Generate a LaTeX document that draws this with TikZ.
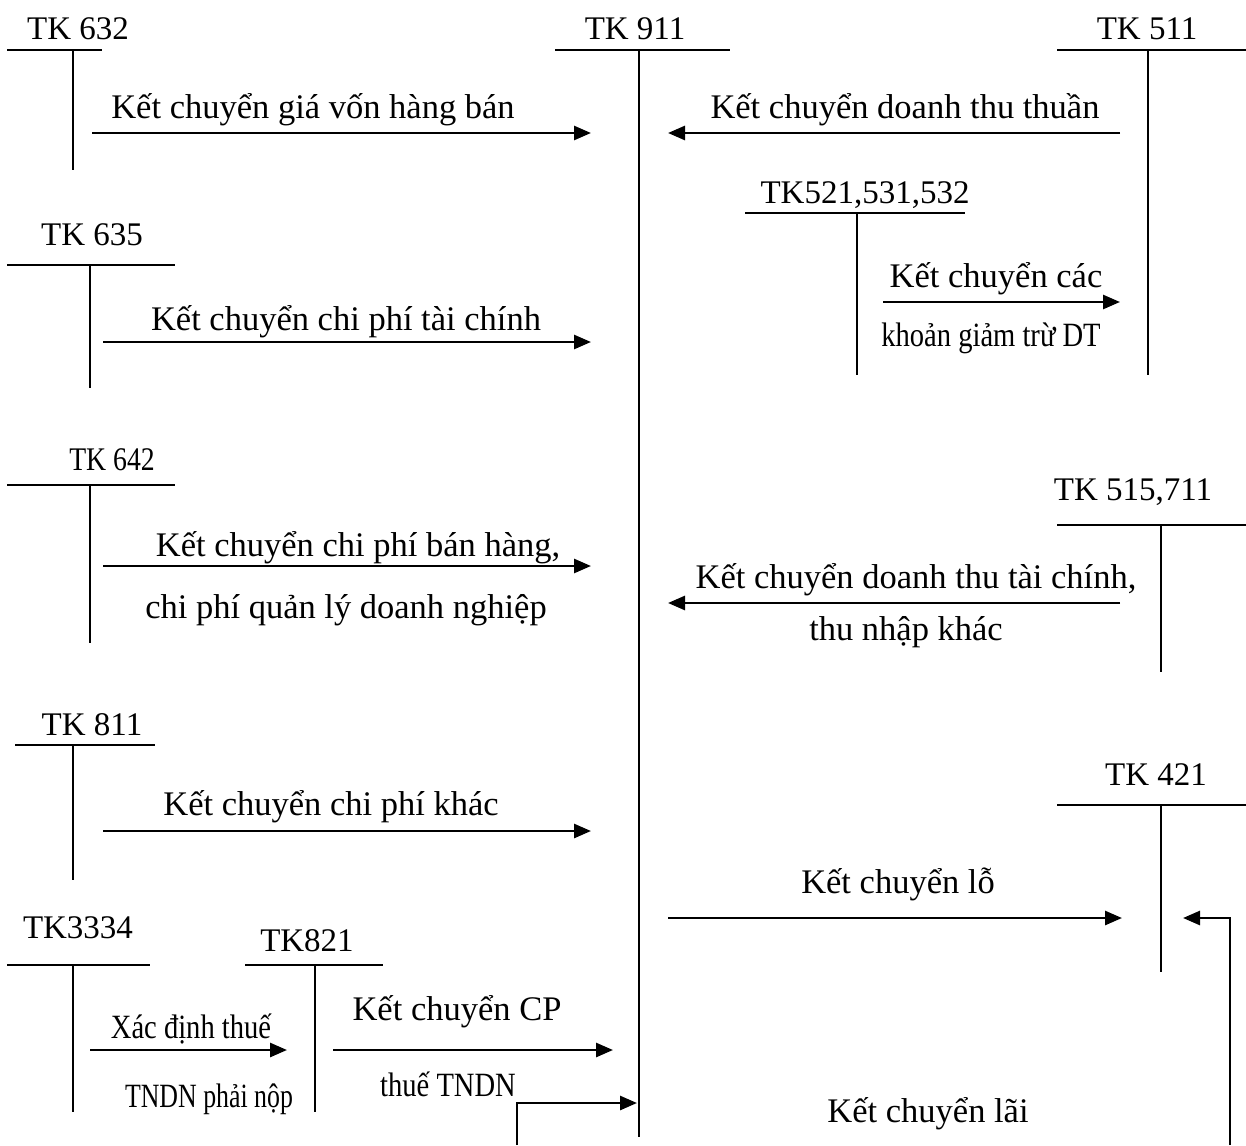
\documentclass[tikz,border=0pt]{standalone}
\usepackage{fontspec}
\setmainfont{Liberation Serif}
\usetikzlibrary{arrows.meta}

% T-account: #1 name, #2 title, #3 title x, #4 title baseline y,
% #5/#6 left/right end of the top rule, #7 rule y, #8 stem x, #9 stem bottom y
\newcommand\taccount[9]{%
  \node[acctitle] (#1) at (#3,#4) {#2};
  \coordinate (#1-l) at (#5,#7);
  \coordinate (#1-r) at (#6,#7);
  \coordinate (#1-t) at (#8,#7);
  \coordinate (#1-b) at (#8,#9);
  \draw[acct] (#1-l) -- (#1-r);
  \draw[acct] (#1-t) -- (#1-b);
}
\newcommand\narrow[2][0.84]{\scalebox{#1}[1]{#2}}

\begin{document}
\begin{tikzpicture}[x=1pt,y=-1pt,
  acct/.style={line width=2pt},
  flow/.style={line width=2.7pt,-{Triangle[length=17pt,width=14pt]}},
  acctitle/.style={anchor=base,inner sep=0pt,font=\fontsize{33}{38}\selectfont},
  lbl/.style={anchor=base,inner sep=0pt,font=\fontsize{34.5}{40}\selectfont},
  slbl/.style={anchor=base,inner sep=0pt,font=\fontsize{34}{40}\selectfont}]
\useasboundingbox (0,0) rectangle (1246,1145);

% ---- T-accounts ----
\taccount{tk632}{TK 632}{78}{40}{7}{102}{50}{73}{170}
\taccount{tk911}{TK 911}{635}{40}{555}{730}{50}{639}{1137}
\taccount{tk511}{TK 511}{1147}{40}{1057}{1246}{50}{1148}{375}
\taccount{tk521}{TK521,531,532}{865}{203}{745}{965}{213}{857}{375}
\taccount{tk635}{TK 635}{92}{245}{7}{175}{265}{90}{388}
\taccount{tk642}{\narrow{TK 642}}{112}{470}{7}{175}{485}{90}{643}
\taccount{tk515}{TK 515,711}{1133}{500}{1057}{1246}{525}{1161}{672}
\taccount{tk811}{TK 811}{92}{735}{15}{155}{745}{73}{880}
\taccount{tk421}{TK 421}{1156}{785}{1057}{1246}{805}{1161}{972}
\taccount{tk3334}{TK3334}{78}{938}{7}{150}{965}{73}{1112}
\taccount{tk821}{TK821}{307}{951}{245}{383}{965}{315}{1112}

% ---- transfer arrows ----
\coordinate (a1s) at (92,133);   \coordinate (a1e) at (591,133);
\coordinate (a2s) at (1120,133); \coordinate (a2e) at (668,133);
\coordinate (a3s) at (883,302);  \coordinate (a3e) at (1120,302);
\coordinate (a4s) at (103,342);  \coordinate (a4e) at (591,342);
\coordinate (a5s) at (103,566);  \coordinate (a5e) at (591,566);
\coordinate (a6s) at (1120,603); \coordinate (a6e) at (668,603);
\coordinate (a7s) at (103,831);  \coordinate (a7e) at (591,831);
\coordinate (a8s) at (668,918);  \coordinate (a8e) at (1122,918);
\coordinate (a9s) at (1230,1145); \coordinate (a9k) at (1230,918); \coordinate (a9e) at (1183,918);
\coordinate (a10s) at (90,1050); \coordinate (a10e) at (287,1050);
\coordinate (a11s) at (333,1050); \coordinate (a11e) at (613,1050);
\coordinate (a12s) at (517,1145); \coordinate (a12k) at (517,1103); \coordinate (a12e) at (637,1103);

\draw[flow] (a1s) -- (a1e);
\draw[flow] (a2s) -- (a2e);
\draw[flow] (a3s) -- (a3e);
\draw[flow] (a4s) -- (a4e);
\draw[flow] (a5s) -- (a5e);
\draw[flow] (a6s) -- (a6e);
\draw[flow] (a7s) -- (a7e);
\draw[flow] (a8s) -- (a8e);
\draw[flow] (a9s) -- (a9k) -- (a9e);
\draw[flow] (a10s) -- (a10e);
\draw[flow] (a11s) -- (a11e);
\draw[flow] (a12s) -- (a12k) -- (a12e);

% ---- arrow captions ----
\node[lbl] (t1) at (313,118) {Kết chuyển giá vốn hàng bán};
\node[lbl] (t2) at (905,118) {Kết chuyển doanh thu thuần};
\node[lbl] (t3a) at (996,287) {Kết chuyển các};
\node[slbl] (t3b) at (991,346) {\narrow{khoản giảm trừ DT}};
\node[lbl] (t4) at (346,330) {Kết chuyển chi phí tài chính};
\node[lbl] (t5a) at (358,556) {Kết chuyển chi phí bán hàng,};
\node[lbl] (t5b) at (346,618) {chi phí quản lý doanh nghiệp};
\node[lbl] (t6a) at (916,588) {Kết chuyển doanh thu tài chính,};
\node[lbl] (t6b) at (906,640) {thu nhập khác};
\node[lbl] (t7) at (331,815) {Kết chuyển chi phí khác};
\node[lbl] (t8) at (898,893) {Kết chuyển lỗ};
\node[lbl] (t9) at (928,1122) {Kết chuyển lãi};
\node[slbl] (t10a) at (191,1038) {\narrow{Xác định thuế}};
\node[slbl] (t10b) at (209,1107) {\narrow[0.76]{TNDN phải nộp}};
\node[lbl] (t11a) at (457,1020) {Kết chuyển CP};
\node[slbl] (t11b) at (448,1096) {\narrow{thuế TNDN}};
\end{tikzpicture}
\end{document}
